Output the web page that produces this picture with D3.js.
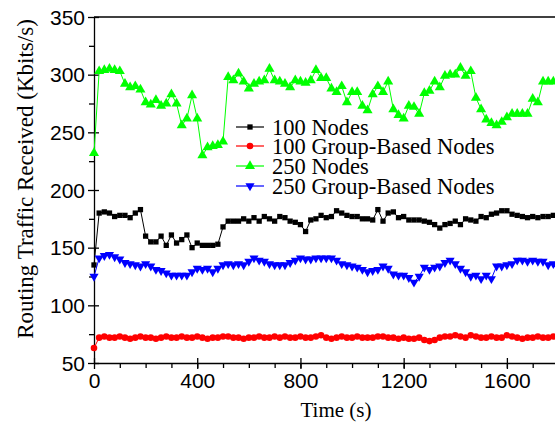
<!DOCTYPE html>
<html lang="en">
<head>
    <meta charset="UTF-8">
    <script src="https://cdn.jsdelivr.net/npm/d3@7"></script>
    <title>Routing Traffic Received</title>
    <style>
        body { margin: 0; background: #fff; }
        svg { font-family: "Liberation Serif", "Times New Roman", serif; }
        .axis path, .axis line { stroke: #000; stroke-width: 1.3px; }
        .axis text { font-size: 21px; fill: #000; }
    </style>
</head>
<body>
<svg id="chart" width="555" height="423"></svg>

<script>
    // sample times (s)
    let times = [
        0, 20, 40, 60, 80, 100, 120, 140, 160, 180,
        200, 220, 240, 260, 280, 300, 320, 340, 360, 380,
        400, 420, 440, 460, 480, 500, 520, 540, 560, 580,
        600, 620, 640, 660, 680, 700, 720, 740, 760, 780,
        800, 820, 840, 860, 880, 900, 920, 940, 960, 980,
        1000, 1020, 1040, 1060, 1080, 1100, 1120, 1140, 1160, 1180,
        1200, 1220, 1240, 1260, 1280, 1300, 1320, 1340, 1360, 1380,
        1400, 1420, 1440, 1460, 1480, 1500, 1520, 1540, 1560, 1580,
        1600, 1620, 1640, 1660, 1680, 1700, 1720, 1740, 1760, 1780
    ]

    let nodes100 = [
        135, 180, 181, 180, 177, 178, 178, 176, 180, 183,
        160, 155, 155, 160, 152, 161, 154, 157, 161, 150,
        154, 152, 152, 152, 153, 168, 173, 173, 173, 175,
        173, 176, 173, 177, 175, 173, 177, 176, 173, 172,
        170, 164, 174, 175, 178, 176, 177, 182, 180, 178,
        177, 177, 175, 175, 174, 183, 173, 180, 181, 176,
        177, 174, 174, 174, 173, 172, 170, 167, 170, 171,
        173, 170, 175, 174, 173, 177, 176, 179, 180, 182,
        182, 179, 178, 177, 176, 177, 176, 177, 177, 178
    ]

    let group100 = [
        63, 72, 73, 72, 72, 73, 72, 71, 72, 73,
        72, 72, 71, 72, 73, 72, 72, 73, 72, 72,
        73, 72, 71, 72, 72, 73, 73, 72, 72, 71,
        72, 72, 73, 72, 72, 73, 72, 73, 72, 72,
        73, 72, 72, 73, 74, 72, 71, 72, 73, 72,
        72, 73, 72, 72, 72, 73, 73, 72, 72, 71,
        72, 71, 71, 72, 70, 69, 70, 72, 73, 73,
        74, 73, 72, 74, 73, 72, 72, 73, 72, 72,
        74, 73, 72, 71, 72, 72, 73, 72, 72, 73
    ]

    let nodes250 = [
        232, 303, 304, 305, 304, 303, 292, 289, 290, 287,
        276, 274, 278, 273, 275, 283, 275, 256, 262, 282,
        262, 230, 237, 238, 239, 242, 298, 295, 301, 294,
        288, 292, 294, 295, 305, 295, 294, 292, 289, 295,
        294, 293, 295, 304, 297, 297, 288, 285, 290, 276,
        285, 285, 273, 269, 283, 290, 285, 294, 270, 265,
        262, 273, 272, 266, 284, 286, 294, 289, 299, 300,
        300, 306, 299, 303, 280, 270, 261, 258, 256, 259,
        263, 266, 266, 266, 266, 279, 276, 294, 294, 294
    ]

    let group250 = [
        125, 141, 143, 144, 142, 140, 137, 136, 135, 134,
        136, 134, 131, 130, 128, 126, 126, 126, 126, 129,
        132, 131, 132, 129, 132, 135, 136, 135, 136, 135,
        138, 141, 139, 138, 136, 135, 135, 135, 137, 139,
        141, 140, 140, 141, 141, 141, 141, 139, 136, 135,
        134, 133, 131, 129, 130, 131, 134, 132, 127, 126,
        126, 124, 120, 125, 133, 131, 133, 134, 137, 139,
        136, 132, 129, 125, 126, 123, 126, 123, 134, 134,
        135, 136, 139, 139, 138, 139, 138, 138, 135, 136
    ]

    let xTicks = [0, 400, 800, 1200, 1600]
    let yTicks = [50, 100, 150, 200, 250, 300, 350]

    let series = [
        { name: '100 Nodes', values: nodes100, color: '#000', symbol: d3.symbolSquare, size: 28, rotate: 0 },
        { name: '100 Group-Based Nodes', values: group100, color: '#ff0000', symbol: d3.symbolCircle, size: 34, rotate: 0 },
        { name: '250 Nodes', values: nodes250, color: '#00ff00', symbol: d3.symbolTriangle, size: 44, rotate: 0 },
        { name: '250 Group-Based Nodes', values: group250, color: '#0000ff', symbol: d3.symbolTriangle, size: 36, rotate: 180 }
    ]

    let svg = d3.select('#chart')
    let mLeft = 94, mRight = 558.5, mTop = 17, mBottom = 363

    let x = d3.scaleLinear().domain([0, 1800]).range([mLeft, mRight])
    let y = d3.scaleLinear().domain([50, 350]).range([mBottom, mTop])

    // minor ticks
    svg.append('g').attr('class', 'axis')
        .attr('transform', `translate(0,${mBottom})`)
        .call(d3.axisBottom(x).tickValues(d3.range(100, 1800, 100)).tickSize(5).tickFormat(''))
        .select('.domain').remove()
    svg.append('g').attr('class', 'axis')
        .attr('transform', `translate(${mLeft},0)`)
        .call(d3.axisLeft(y).tickValues(d3.range(75, 350, 50)).tickSize(5).tickFormat(''))
        .select('.domain').remove()

    // major ticks cross the axis line
    let xAxis = svg.append('g').attr('class', 'axis')
        .attr('transform', `translate(0,${mBottom})`)
        .call(d3.axisBottom(x).tickValues(xTicks).tickFormat(d3.format('d'))
            .tickSize(6).tickPadding(4).tickSizeOuter(0))
    xAxis.selectAll('.tick line').attr('y1', -5)

    let yAxis = svg.append('g').attr('class', 'axis')
        .attr('transform', `translate(${mLeft},0)`)
        .call(d3.axisLeft(y).tickValues(yTicks).tickSize(6).tickPadding(3).tickSizeOuter(0))
    yAxis.selectAll('.tick line').attr('x1', 5)
    yAxis.selectAll('.tick text').attr('dy', '0.34em')

    // top frame
    svg.append('line')
        .attr('x1', mLeft).attr('x2', 555).attr('y1', mTop).attr('y2', mTop)
        .attr('stroke', '#000').attr('stroke-width', 1.3)

    let line = d3.line()
        .x((d, i) => x(times[i]))
        .y(d => y(d))

    series.forEach(s => {
        svg.append('path')
            .datum(s.values)
            .attr('fill', 'none')
            .attr('stroke', s.color)
            .attr('stroke-width', 1)
            .attr('d', line)

        svg.append('g')
            .selectAll('path')
            .data(s.values)
            .enter().append('path')
            .attr('d', d3.symbol().type(s.symbol).size(s.size))
            .attr('transform', (d, i) => `translate(${x(times[i])},${y(d)}) rotate(${s.rotate})`)
            .attr('fill', s.color)
    })

    // legend
    let legendY = [127, 146, 166, 186]
    let legend = svg.append('g')
    series.forEach((s, i) => {
        let g = legend.append('g').attr('transform', `translate(236,${legendY[i]})`)
        g.append('line').attr('x1', 0).attr('x2', 28)
            .attr('stroke', s.color).attr('stroke-width', 1.2)
        g.append('path')
            .attr('d', d3.symbol().type(s.symbol).size(s.size))
            .attr('transform', `translate(14,0) rotate(${s.rotate})`)
            .attr('fill', s.color)
        g.append('text').attr('x', 36).attr('dy', '0.34em')
            .attr('font-size', 22.5).text(s.name)
    })

    // axis titles
    svg.append('text')
        .attr('x', 336).attr('y', 417)
        .attr('text-anchor', 'middle').attr('font-size', 21)
        .text('Time (s)')

    svg.append('text')
        .attr('transform', 'translate(33,179) rotate(-90)')
        .attr('text-anchor', 'middle').attr('font-size', 23)
        .text('Routing Traffic Received (Kbits/s)')
</script>
</body>
</html>
